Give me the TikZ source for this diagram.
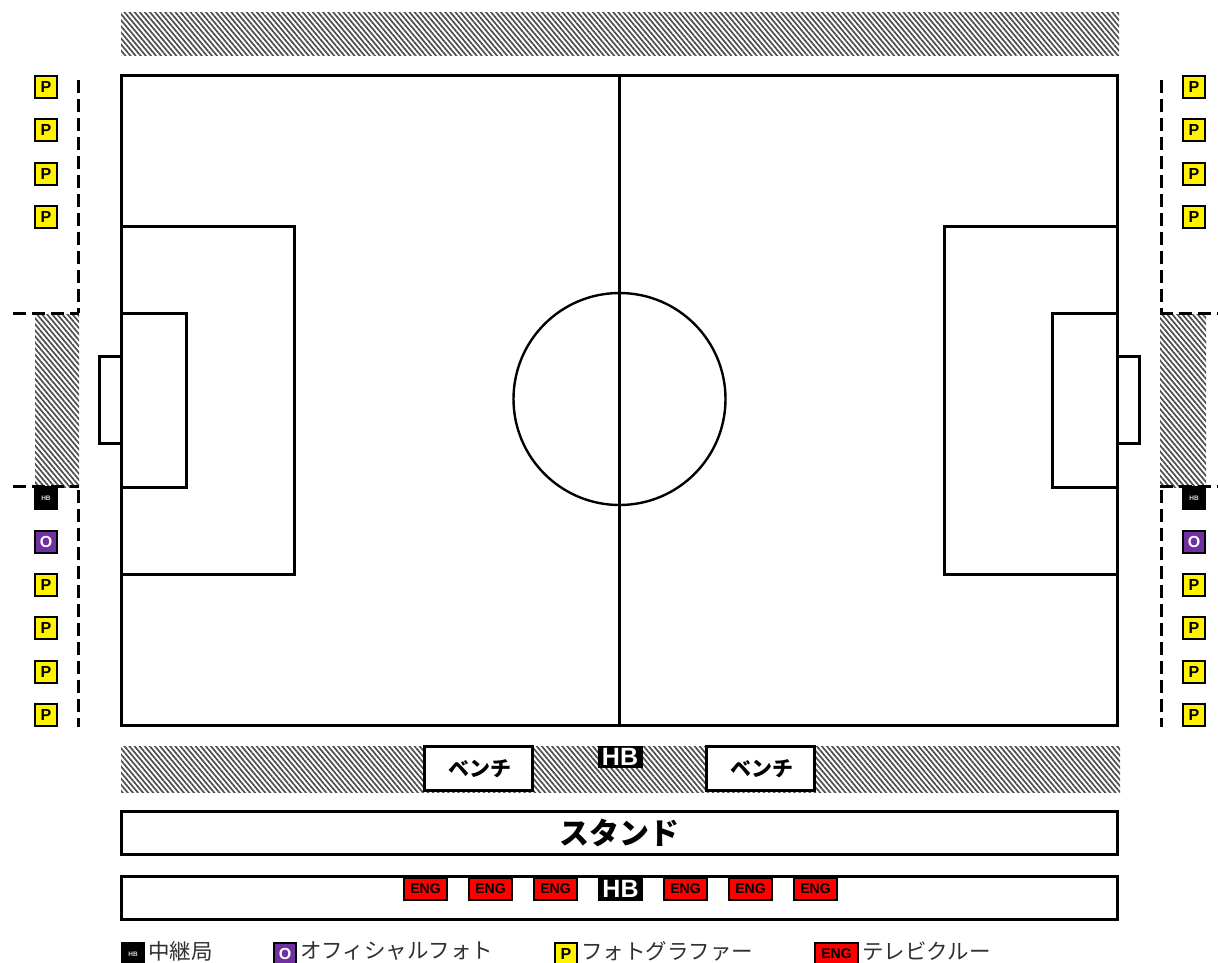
\documentclass[tikz,border=0pt]{standalone}
\usepackage{fontspec}
\setmainfont{Noto Sans CJK JP}
\newfontfamily\latinb{Liberation Sans}
\usetikzlibrary{patterns.meta,positioning}
\definecolor{opurple}{HTML}{7030A0}
\definecolor{lgtxt}{HTML}{303030}
\tikzset{
 x=1pt,y=-1pt,
 ln/.style={line width=3pt,draw=black},
 dsh/.style={line width=3pt,draw=black,dash pattern=on 12.5pt off 6.5pt},
 hatch/.style={fill=black!15,pattern={Lines[angle=-50,distance=3.9pt,line width=1.7pt]},pattern color=black!70},
 tag/.style={draw=black,line width=2pt,minimum width=22pt,minimum height=22pt,inner sep=0pt,anchor=north west,font=\latinb\bfseries\fontsize{16}{16}\selectfont},
 ptag/.style={tag,fill=yellow,text=black},
 otag/.style={tag,fill=opurple,text=white},
 hbs/.style={tag,fill=black,text=white!85!black,font=\latinb\bfseries\fontsize{6.5}{6.5}\selectfont},
 eng/.style={tag,fill=red,text=black,minimum width=43pt,font=\latinb\bfseries\fontsize{14}{14}\selectfont},
 hbl/.style={tag,fill=black,text=white,minimum width=43pt,font=\latinb\bfseries\fontsize{25}{25}\selectfont},
 lg/.style={text=lgtxt,anchor=west,inner sep=0pt,font=\fontsize{21.5}{21.5}\selectfont},
 bench/.style={ln,fill=white,minimum width=108pt,minimum height=44pt,inner sep=0pt,font=\bfseries\fontsize{21}{21}\selectfont},
 stripbox/.style={ln,minimum width=996pt,minimum height=43pt,inner sep=0pt},
}
\begin{document}
\begin{tikzpicture}
\useasboundingbox (0,0) rectangle (1218,962);
\begin{scope}
\clip (0,0) rectangle (1218,962);
% hatched strips
\path[hatch] (121,12) rectangle (1119,55);
\path[hatch] (35,314) rectangle (79,487);
\path[hatch] (1160,314) rectangle (1206,487);
\path[hatch] (121,746) rectangle (1120,792);
% field
\draw[ln] (121,75) rectangle (1117.5,725);
\draw[ln] (619.5,75) -- (619.5,725);
\draw[line width=2.4pt] (619.5,399) circle (106);
\draw[ln] (121,226) -- (294.5,226) -- (294.5,574) -- (121,574);
\draw[ln] (121,313) -- (186.5,313) -- (186.5,487) -- (121,487);
\draw[ln] (121,356) -- (99,356) -- (99,443.5) -- (121,443.5);
\draw[ln] (1117.5,226) -- (944,226) -- (944,574) -- (1117.5,574);
\draw[ln] (1117.5,313) -- (1052,313) -- (1052,487) -- (1117.5,487);
\draw[ln] (1117.5,356) -- (1139.5,356) -- (1139.5,443.5) -- (1117.5,443.5);
% dashed
\draw[dsh] (78,80) -- (78,313);
\draw[dsh] (13,313.5) -- (79,313.5);
\draw[dsh] (13,486.5) -- (79,486.5);
\draw[dsh] (78,490) -- (78,727);
\draw[dsh] (1161,80) -- (1161,313);
\draw[dsh] (1160,313.5) -- (1218,313.5);
\draw[dsh] (1160,486.5) -- (1218,486.5);
\draw[dsh] (1161,490) -- (1161,727);
% bench & stands
\node[bench] (b1) at (478.5,768.5) {\hspace{3pt}ベンチ};
\node[bench] (b2) at (760.5,768.5) {\hspace{3pt}ベンチ};
\node[stripbox,fill=white,font=\bfseries\fontsize{30}{30}\selectfont] (stand) at (619.5,833) {スタンド};
\node[stripbox] (eb) at (619.5,898) {};
\node[hbl,minimum height=20pt] (hb1) at (597.5,746) {HB};
% ENG row
\node[eng] (e1) at (403,877) {ENG};
\node[eng] (e2) at (468,877) {ENG};
\node[eng] (e3) at (533,877) {ENG};
\node[hbl] (hb2) at (598,877) {HB};
\node[eng] (e4) at (663,877) {ENG};
\node[eng] (e5) at (728,877) {ENG};
\node[eng] (e6) at (793,877) {ENG};
% side tags
\foreach \xx/\sd in {34/l,1182/r}{
 \node[ptag] (p1\sd) at (\xx,75) {P};
 \node[ptag] (p2\sd) at (\xx,118) {P};
 \node[ptag] (p3\sd) at (\xx,162) {P};
 \node[ptag] (p4\sd) at (\xx,205) {P};
 \node[hbs] (h\sd) at (\xx,486) {HB};
 \node[otag] (o\sd) at (\xx,530) {O};
 \node[ptag] (p5\sd) at (\xx,573) {P};
 \node[ptag] (p6\sd) at (\xx,616) {P};
 \node[ptag] (p7\sd) at (\xx,660) {P};
 \node[ptag] (p8\sd) at (\xx,703) {P};
}
% legend
\node[hbs] (lh) at (121,942) {HB};
\node[lg] (lht) at (148,951.5) {中継局};
\node[otag] (lo) at (273,942) {O};
\node[lg] (lot) at (300,951.5) {オフィシャルフォト};
\node[ptag] (lp) at (554,942) {P};
\node[lg] (lpt) at (581,951.5) {フォトグラファー};
\node[eng] (le) at (814,942) {ENG};
\node[lg] (let) at (862,951.5) {テレビクルー};
\end{scope}
\end{tikzpicture}
\end{document}
